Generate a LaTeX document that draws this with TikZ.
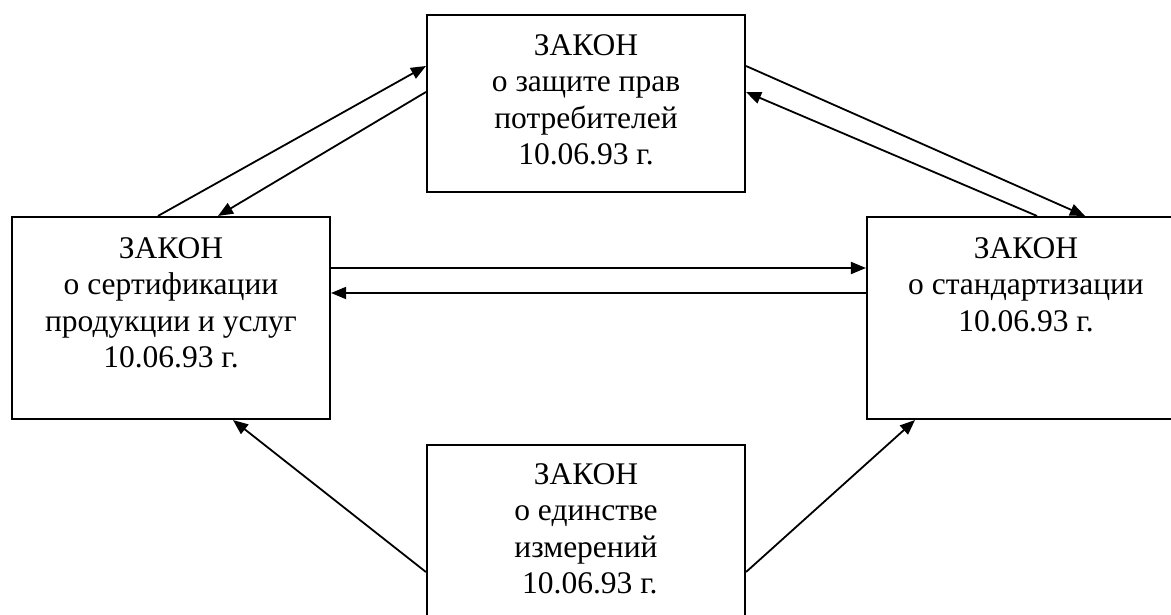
\documentclass[tikz,border=0pt]{standalone}
\usepackage{fontspec}
\setmainfont{Liberation Serif}
\usetikzlibrary{arrows.meta}
\begin{document}
\begin{tikzpicture}[x=1pt,y=-1pt,
  lawbox/.style={draw=black, line width=2.1pt, rectangle, minimum width=318pt, inner sep=0pt},
  lawtext/.style={align=center, inner sep=0pt, anchor=north, font=\fontsize{31.5}{36.5}\selectfont},
  conn/.style={line width=1.8pt, -{Triangle[length=15pt,width=12pt]}}]
\useasboundingbox (0,0) rectangle (1171,615);
\clip (0,0) rectangle (1171,615);
\fill[white] (0,0) rectangle (1171,615);
% boxes
\node[lawbox, minimum height=177pt] (T) at (586,103.5) {};
\node[lawbox, minimum height=202pt] (L) at (171,318) {};
\node[lawbox, minimum height=202pt] (R) at (1026,318) {};
\node[lawbox, minimum height=205pt] (B) at (586,547.5) {};
% texts
\node[lawtext] (Tt) at (586,34) {ЗАКОН\\о защите прав\\потребителей\\10.06.93 г.};
\node[lawtext] (Lt) at (171,237) {ЗАКОН\\о сертификации\\продукции и услуг\\10.06.93 г.};
\node[lawtext] (Rt) at (1026,237) {ЗАКОН\\о стандартизации\\10.06.93 г.};
\node[lawtext] (Bt) at (586,463) {ЗАКОН\\о единстве\\измерений\\\hspace*{7.75pt}10.06.93 г.};
% connectors
\draw[conn] (L.north -| 158,0) -- (T.west |- 0,66);
\draw[conn] (T.west |- 0,92) -- (L.north -| 218,0);
\draw[conn] (T.east |- 0,66) -- (R.north -| 1085,0);
\draw[conn] (R.north -| 1037,0) -- (T.east |- 0,92);
\draw[conn] (L.east |- 0,268) -- (R.west |- 0,268);
\draw[conn] (R.west |- 0,293) -- (L.east |- 0,293);
\draw[conn] (B.west |- 0,572) -- (L.south -| 233,0);
\draw[conn] (B.east |- 0,572) -- (R.south -| 915,0);
\end{tikzpicture}
\end{document}
